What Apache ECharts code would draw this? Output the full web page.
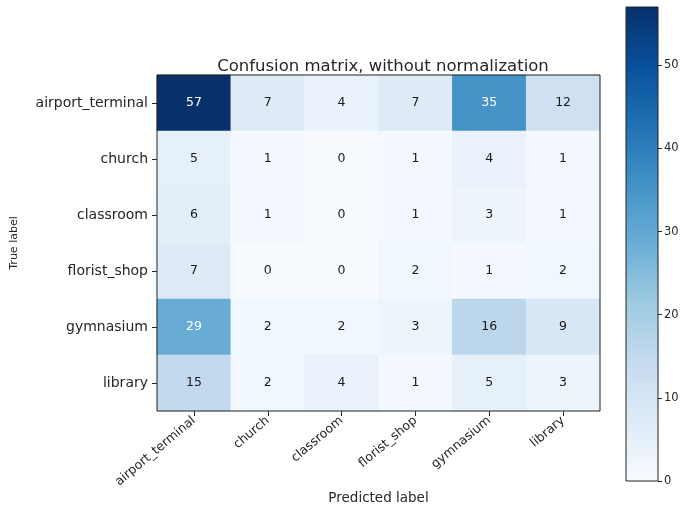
<!DOCTYPE html>
<html>
<head>
<meta charset="utf-8">
<style>
  html, body { margin: 0; padding: 0; background: #fff; overflow: hidden; }
  #chart { width: 686px; height: 510px; }
</style>
<script src="https://cdn.jsdelivr.net/npm/echarts@6/dist/echarts.min.js"></script>
</head>
<body>
<div id="chart"></div>
<script>
// Scene classes (rows = true label, columns = predicted label)
const classes = ['airport_terminal', 'church', 'classroom', 'florist_shop', 'gymnasium', 'library'];

// Confusion matrix counts, one array per true class
const rowAirportTerminal = [57, 7, 4, 7, 35, 12];
const rowChurch          = [5, 1, 0, 1, 4, 1];
const rowClassroom       = [6, 1, 0, 1, 3, 1];
const rowFloristShop     = [7, 0, 0, 2, 1, 2];
const rowGymnasium       = [29, 2, 2, 3, 16, 9];
const rowLibrary         = [15, 2, 4, 1, 5, 3];
const matrix = [rowAirportTerminal, rowChurch, rowClassroom, rowFloristShop, rowGymnasium, rowLibrary];

// Colorbar tick step (ticks at 0, 10, ..., 50)
const colorbarStep = 10;

// Matplotlib "Blues" colormap stops
const blues = ['#f7fbff', '#deebf7', '#c6dbef', '#9ecae1', '#6baed6', '#4292c6', '#2171b5', '#08519c', '#08306b'];

const vmax = Math.max(...matrix.flat());
const thresh = vmax / 2;
const FONT = 'DejaVu Sans';
const TEXT = '#262626';

const cells = [];
matrix.forEach((row, i) => {
  row.forEach((v, j) => {
    cells.push({
      value: [j, i, v],
      label: { color: v > thresh ? '#ffffff' : '#1a1a1a' }
    });
  });
});

const barStops = blues.slice().reverse().map((c, k, arr) => ({ offset: k / (arr.length - 1), color: c }));

const chart = echarts.init(document.getElementById('chart'), null, { renderer: 'canvas' });
chart.setOption({
  animation: false,
  textStyle: { fontFamily: FONT },
  title: {
    text: 'Confusion matrix, without normalization',
    left: 378, top: 53, textAlign: 'center',
    textStyle: { fontFamily: FONT, fontSize: 16.5, fontWeight: 'normal', color: TEXT }
  },
  grid: [
    { left: 157, top: 75, width: 443, height: 336, show: true, backgroundColor: 'transparent',
      borderColor: '#222', borderWidth: 1, z: 10 },
    { left: 626, top: 7, width: 32, height: 474, show: true, backgroundColor: 'transparent',
      borderColor: '#222', borderWidth: 1, z: 10 }
  ],
  xAxis: [
    {
      type: 'category', gridIndex: 0, data: classes, position: 'bottom',
      name: 'Predicted label', nameLocation: 'middle', nameGap: 80, nameMoveOverlap: false,
      nameTextStyle: { fontFamily: FONT, fontSize: 13.5, color: TEXT },
      axisLine: { show: false },
      axisTick: { show: true, alignWithLabel: true, length: 5, lineStyle: { color: '#222' } },
      axisLabel: { rotate: 40, fontSize: 12.5, color: TEXT, fontFamily: FONT, margin: 8, interval: 0,
                   hideOverlap: false },
      splitLine: { show: false }
    },
    {
      type: 'category', gridIndex: 1, data: [''], show: false
    }
  ],
  yAxis: [
    {
      type: 'category', gridIndex: 0, data: classes, inverse: true,
      name: 'True label', nameLocation: 'middle', nameGap: 137, nameMoveOverlap: false,
      nameTextStyle: { fontFamily: FONT, fontSize: 11, color: TEXT },
      axisLine: { show: false },
      axisTick: { show: true, alignWithLabel: true, length: 5, lineStyle: { color: '#222' } },
      axisLabel: { fontSize: 14, color: TEXT, fontFamily: FONT, margin: 9, interval: 0 },
      splitLine: { show: false }
    },
    {
      type: 'value', gridIndex: 1, position: 'right', min: 0, max: vmax, interval: colorbarStep,
      z: 20,
      axisLine: { show: false },
      axisTick: { show: true, length: 4, lineStyle: { color: '#222' } },
      axisLabel: { fontSize: 11.5, color: TEXT, fontFamily: FONT, margin: 6,
                   showMaxLabel: false, hideOverlap: false },
      splitLine: { show: false }
    }
  ],
  visualMap: {
    show: false, type: 'continuous', min: 0, max: vmax, dimension: 2, seriesIndex: 0,
    inRange: { color: blues }
  },
  series: [
    {
      type: 'heatmap', xAxisIndex: 0, yAxisIndex: 0, data: cells,
      label: { show: true, fontSize: 12.5, fontFamily: FONT },
      itemStyle: { borderWidth: 0 },
      emphasis: { disabled: true }
    },
    {
      type: 'bar', xAxisIndex: 1, yAxisIndex: 1, data: [vmax], barWidth: '100%',
      itemStyle: { color: new echarts.graphic.LinearGradient(0, 0, 0, 1, barStops) },
      emphasis: { disabled: true }
    }
  ]
});
</script>
</body>
</html>
